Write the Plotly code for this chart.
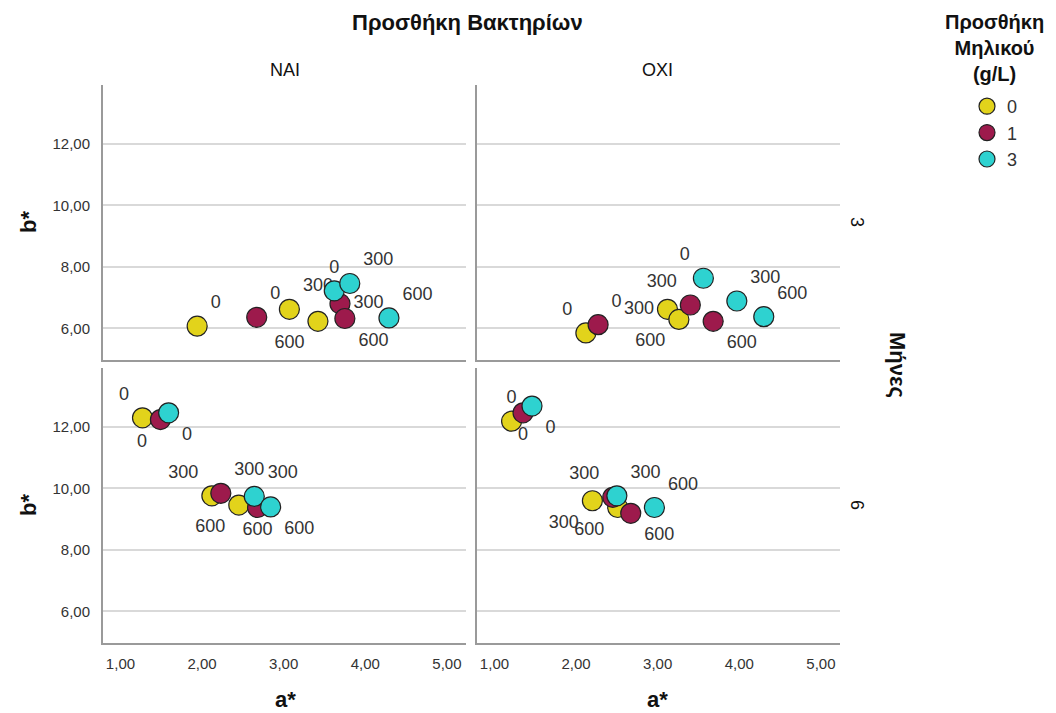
import plotly.graph_objects as go

# ---------------- data ----------------
apple_levels = ["0", "1", "3"]          # Προσθήκη Μηλικού (g/L)
dose_labels = ["0", "300", "600"]       # point labels
bacteria = ["ΝΑΙ", "ΟΧΙ"]
months = ["3", "6"]

# a* / b* values: per apple level, points ordered by dose label 0, 300, 600
a_nai_3 = {"0": [1.94, 3.07, 3.42], "1": [2.67, 3.69, 3.75], "3": [3.62, 3.81, 4.29]}
b_nai_3 = {"0": [6.07, 6.62, 6.23], "1": [6.36, 6.80, 6.32], "3": [7.22, 7.46, 6.34]}

a_oxi_3 = {"0": [2.12, 3.12, 3.26], "1": [2.27, 3.40, 3.68], "3": [3.56, 3.97, 4.30]}
b_oxi_3 = {"0": [5.85, 6.62, 6.29], "1": [6.12, 6.76, 6.23], "3": [7.63, 6.89, 6.38]}

a_nai_6 = {"0": [1.27, 2.12, 2.45], "1": [1.49, 2.23, 2.68], "3": [1.59, 2.64, 2.84]}
b_nai_6 = {"0": [12.30, 9.76, 9.46], "1": [12.24, 9.84, 9.38], "3": [12.46, 9.74, 9.40]}

a_oxi_6 = {"0": [1.21, 2.20, 2.51], "1": [1.35, 2.45, 2.67], "3": [1.46, 2.50, 2.96]}
b_oxi_6 = {"0": [12.19, 9.60, 9.38], "1": [12.46, 9.71, 9.19], "3": [12.68, 9.76, 9.38]}

x_tick_vals = [1, 2, 3, 4, 5]
y_tick_vals = [6, 8, 10, 12]

# ---------------- styles ----------------
colors = {"0": "#E2D31B", "1": "#9D1A4C", "3": "#2ED2D0"}

# text positions of the point labels (style only)
pos_nai_3 = {"0": ["top right", "top right", "bottom left"],
             "1": ["top right", "middle right", "bottom right"],
             "3": ["top center", "top right", "top right"]}
pos_oxi_3 = {"0": ["top left", "middle left", "bottom left"],
             "1": ["top right", "top left", "bottom right"],
             "3": ["top left", "top right", "top right"]}
pos_nai_6 = {"0": ["top left", "top left", "bottom left"],
             "1": ["bottom left", "top right", "bottom center"],
             "3": ["bottom right", "top right", "bottom right"]}
pos_oxi_6 = {"0": ["top center", "bottom left", "bottom left"],
             "1": ["bottom center", "top left", "bottom right"],
             "3": ["bottom right", "top right", "top right"]}

OFF = 8                 # page body margin
W, H = 1048, 705
FONT = "Liberation Sans, Arial, sans-serif"

def px(x):
    return (x - OFF) / W

def py(y):
    return 1 - (y - OFF) / H

fig = go.Figure()

panels = [
    ("x", "y", a_nai_3, b_nai_3, pos_nai_3),
    ("x2", "y2", a_oxi_3, b_oxi_3, pos_oxi_3),
    ("x3", "y3", a_nai_6, b_nai_6, pos_nai_6),
    ("x4", "y4", a_oxi_6, b_oxi_6, pos_oxi_6),
]

for pi, (xa, ya, A, B, P) in enumerate(panels):
    for lvl in apple_levels:
        fig.add_trace(go.Scatter(
            x=A[lvl], y=B[lvl], xaxis=xa, yaxis=ya,
            mode="markers+text",
            text=dose_labels,
            textposition=P[lvl],
            textfont=dict(family=FONT, size=18, color="#333333"),
            marker=dict(size=20, color=colors[lvl],
                        line=dict(color="#222222", width=1.2)),
            name=lvl, legendgroup=lvl, showlegend=(pi == 0),
            cliponaxis=False,
        ))

xr = [0.786, 5.234]
yr = [4.97, 13.92]

xdom_l = [px(103), px(466)]
xdom_r = [px(477), px(840)]
ydom_t = [py(360), py(85)]
ydom_b = [py(643), py(368)]

def xaxis(dom, anchor, show_labels):
    return dict(domain=dom, anchor=anchor, range=xr, tickvals=x_tick_vals,
                tickformat=".2f", showgrid=False, zeroline=False,
                showline=True, linecolor="#9a9a9a", linewidth=2,
                ticks="outside" if show_labels else "", ticklen=0,
                showticklabels=show_labels,
                ticklabelstandoff=6,
                tickfont=dict(family=FONT, size=15, color="#333333"))

def yaxis(dom, anchor):
    return dict(domain=dom, anchor=anchor, range=yr, tickvals=y_tick_vals,
                tickformat=".2f", showgrid=True, gridcolor="#d9d9d9",
                gridwidth=2, zeroline=False,
                showline=True, linecolor="#9a9a9a", linewidth=2,
                ticks="outside", ticklen=0, ticklabelstandoff=8,
                tickfont=dict(family=FONT, size=15, color="#333333"))

fig.update_layout(
    xaxis=xaxis(xdom_l, "y", False),
    yaxis=yaxis(ydom_t, "x"),
    xaxis2=xaxis(xdom_r, "y2", False),
    yaxis2={**yaxis(ydom_t, "x2"), "showticklabels": False},
    xaxis3=xaxis(xdom_l, "y3", True),
    yaxis3=yaxis(ydom_b, "x3"),
    xaxis4=xaxis(xdom_r, "y4", True),
    yaxis4={**yaxis(ydom_b, "x4"), "showticklabels": False},
)

ann = []
def add(text, x, y, size, bold=False, angle=0):
    ann.append(dict(text=f"<b>{text}</b>" if bold else text,
                    x=px(x), y=py(y), xref="paper", yref="paper",
                    showarrow=False, textangle=angle,
                    font=dict(family=FONT, size=size, color="#111111"),
                    xanchor="center", yanchor="middle"))

add("Προσθήκη Βακτηρίων", 467, 22, 22, bold=True)
add(bacteria[0], 285, 70, 18)
add(bacteria[1], 657, 70, 18)
add(months[0], 857, 222, 18, angle=90)
add(months[1], 857, 505, 18, angle=90)
add("Μήνες", 897, 365, 22, bold=True, angle=90)
add("b*", 28, 222, 22, bold=True, angle=-90)
add("b*", 28, 505, 22, bold=True, angle=-90)
add("a*", 285, 699, 22, bold=True)
add("a*", 657, 699, 22, bold=True)
add("Προσθήκη<br>Μηλικού<br>(g/L)", 994, 48, 20, bold=True)

fig.update_layout(
    annotations=ann,
    width=W, height=H,
    margin=dict(l=0, r=0, t=0, b=0),
    paper_bgcolor="white", plot_bgcolor="white",
    separators=",.",
    showlegend=True,
    legend=dict(x=px(967), y=py(88), xanchor="left", yanchor="top",
                font=dict(family=FONT, size=18, color="#333333"),
                tracegroupgap=0, itemwidth=30,
                bgcolor="rgba(0,0,0,0)"),
    font=dict(family=FONT),
)

fig.write_html("out.html")
